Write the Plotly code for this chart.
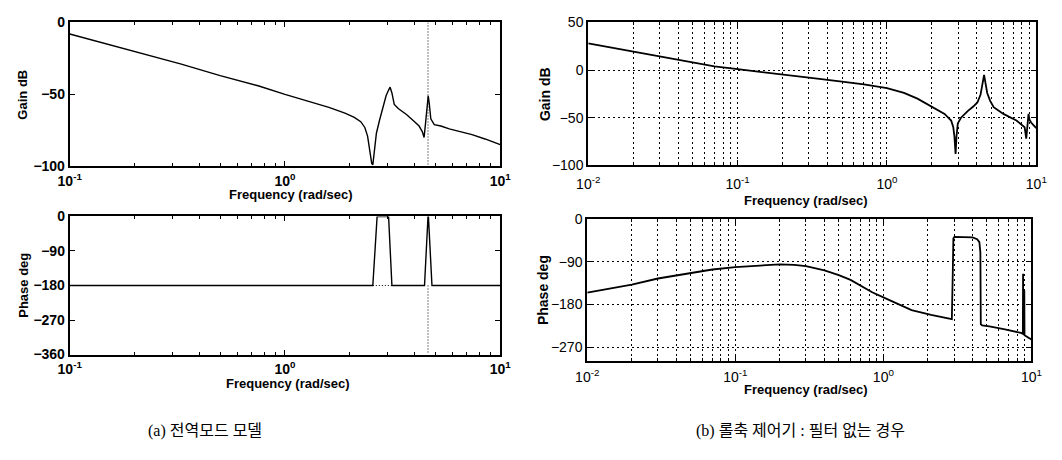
import plotly.graph_objects as go

# ---------------- data ----------------
# (a) whole-mode model : gain
A_GAIN_FREQ = [0.1, 0.15, 0.22, 0.33, 0.5, 0.75, 1.0, 1.3, 1.6, 1.9, 2.1, 2.25, 2.35, 2.42,
               2.48, 2.53, 2.56, 2.6, 2.66, 2.75, 2.85, 2.95, 3.03, 3.08, 3.14, 3.22, 3.37,
               3.67, 4.0, 4.2, 4.35, 4.43, 4.5, 4.56, 4.63, 4.68, 4.76, 4.94, 5.3, 5.8, 6.5,
               7.4, 8.5, 10.0]
A_GAIN_DB = [-8, -15, -22, -29, -37, -44, -50, -55, -59, -63, -66, -69, -73, -79,
             -88, -98, -99, -88, -77, -68, -59, -51, -47, -45, -49, -57, -60,
             -64, -69, -72, -76, -80, -70, -60, -51, -56, -67, -71, -72, -74, -76,
             -78, -81, -85]
# (a) whole-mode model : phase
A_PHASE_FREQ = [0.1, 2.56, 2.68, 3.03, 3.14, 4.45, 4.62, 4.64, 4.82, 10.0]
A_PHASE_DEG = [-180, -180, 0, 0, -180, -180, 0, 0, -180, -180]
# (a) dotted guide lines
A_MARK_FREQ = [4.62, 4.62]
A_MARK_GAIN = [0, -100]
A_MARK_PHASE = [-180, -360]
A_HOLD_FREQ = [2.56, 3.14]
A_HOLD_PHASE = [-180, -180]

# (b) roll-axis controller without filter : gain
B_GAIN_FREQ = [0.01, 0.015, 0.02, 0.03, 0.05, 0.07, 0.1, 0.15, 0.2, 0.3, 0.5, 0.7, 1.0, 1.3,
               1.6, 2.0, 2.43, 2.69, 2.78, 2.83, 2.88, 2.92, 2.98, 3.13, 3.47, 3.8, 4.03,
               4.23, 4.38, 4.47, 4.55, 4.69, 4.9, 5.18, 6.02, 7.36, 8.35, 8.56, 8.7, 8.87,
               9.0, 9.23, 9.6, 10.0]
B_GAIN_DB = [28, 23, 19, 14, 7.5, 4, 1, -2.5, -5, -8, -12, -15, -19, -24,
             -30, -39, -46, -53, -60, -70, -88, -70, -56, -50, -43, -38, -34,
             -26, -15, -5, -12, -24, -32, -39, -46, -53, -60, -72, -60, -46,
             -52, -55, -58, -61]
# (b) roll-axis controller without filter : phase
B_PHASE_FREQ = [0.01, 0.015, 0.02, 0.03, 0.05, 0.07, 0.1, 0.15, 0.2, 0.25, 0.3, 0.4, 0.5,
                0.6, 0.84, 1.0, 1.23, 1.55, 2.1, 2.5, 2.9, 2.94, 2.97, 3.02, 3.5, 4.0,
                4.3, 4.45, 4.52, 4.55, 4.65, 5.2, 6.5, 7.5, 8.5, 8.75, 8.78, 8.82, 8.95,
                8.98, 10.0]
B_PHASE_DEG = [-155, -145, -138, -125, -113, -106, -101, -97, -95, -96, -99, -108, -118,
               -128, -154, -165, -178, -192, -202, -207, -211, -120, -40, -37, -37, -38,
               -42, -48, -70, -222, -224, -226, -232, -236, -240, -242, -115, -243, -150,
               -245, -254]

# tick labels
A_XTICKS = [0.1, 1, 10]
A_XTEXT = ["10<sup>-1</sup>", "10<sup>0</sup>", "10<sup>1</sup>"]
B_XTICKS = [0.01, 0.1, 1, 10]
B_XTEXT = ["10<sup>-2</sup>", "10<sup>-1</sup>", "10<sup>0</sup>", "10<sup>1</sup>"]
A_GAIN_TICKS = [0, -50, -100]
A_PHASE_TICKS = [0, -90, -180, -270, -360]
B_GAIN_TICKS = [50, 0, -50, -100]
B_PHASE_TICKS = [0, -90, -180, -270]

# ---------------- layout helpers ----------------
W, H = 1062, 460


def fx(p):
    return p / W


def fy(p):
    return 1 - p / H


def minor_vals(lo, hi):
    out = []
    for e in range(lo, hi):
        for m in range(2, 10):
            out.append(m * 10 ** e)
    return out


FONT = "Liberation Sans, Arial, sans-serif"
BOLD14 = dict(family=FONT, size=14, color="black", weight="bold")
REG14 = dict(family=FONT, size=14, color="black")
GRIDDASH = "2px,3px"

fig = go.Figure()

LINE = dict(color="black", width=1.4)
DOT = dict(color="black", width=1, dash="1px,2px")

fig.add_trace(go.Scatter(x=A_GAIN_FREQ, y=A_GAIN_DB, mode="lines", line=LINE, xaxis="x", yaxis="y"))
fig.add_trace(go.Scatter(x=A_MARK_FREQ, y=A_MARK_GAIN, mode="lines", line=DOT, xaxis="x", yaxis="y"))
fig.add_trace(go.Scatter(x=A_PHASE_FREQ, y=A_PHASE_DEG, mode="lines", line=LINE, xaxis="x2", yaxis="y2"))
fig.add_trace(go.Scatter(x=A_MARK_FREQ, y=A_MARK_PHASE, mode="lines", line=DOT, xaxis="x2", yaxis="y2"))
fig.add_trace(go.Scatter(x=A_HOLD_FREQ, y=A_HOLD_PHASE, mode="lines", line=DOT, xaxis="x2", yaxis="y2"))
fig.add_trace(go.Scatter(x=B_GAIN_FREQ, y=B_GAIN_DB, mode="lines", line=dict(color="black", width=1.8),
                         xaxis="x3", yaxis="y3"))
fig.add_trace(go.Scatter(x=B_PHASE_FREQ, y=B_PHASE_DEG, mode="lines", line=dict(color="black", width=1.8),
                         xaxis="x4", yaxis="y4"))


def xaxis(dom, rng, ticks, text, anchor, grid, font, lo, hi, standoff):
    d = dict(type="log", range=rng, domain=[fx(dom[0]), fx(dom[1])], anchor=anchor,
             showline=True, linewidth=2, linecolor="black", mirror="allticks",
             ticks="inside", ticklen=5, tickwidth=1, tickcolor="black",
             tickmode="array", tickvals=ticks, ticktext=text, tickfont=font,
             ticklabelstandoff=standoff,
             showgrid=grid, zeroline=False, fixedrange=True,
             minor=dict(tickmode="array", tickvals=minor_vals(lo, hi), ticks="inside", ticklen=3,
                        tickwidth=1, tickcolor="black", showgrid=grid))
    if grid:
        d.update(gridcolor="black", gridwidth=1, griddash=GRIDDASH)
        d["minor"].update(gridcolor="black", gridwidth=1, griddash=GRIDDASH)
    return d


def yaxis(dom, rng, ticks, anchor, grid, font):
    d = dict(range=rng, domain=[fy(dom[1]), fy(dom[0])], anchor=anchor,
             showline=True, linewidth=2, linecolor="black", mirror="allticks",
             ticks="inside", ticklen=5, tickwidth=1, tickcolor="black",
             tickmode="array", tickvals=ticks, tickfont=font,
             showgrid=grid, zeroline=False, fixedrange=True)
    if grid:
        d.update(gridcolor="black", gridwidth=1, griddash=GRIDDASH)
    return d


fig.update_layout(
    width=W, height=H, margin=dict(l=0, r=0, t=0, b=0),
    paper_bgcolor="white", plot_bgcolor="white", showlegend=False,
    xaxis=xaxis((59, 499), [-1, 1], A_XTICKS, A_XTEXT, "y", False, BOLD14, -1, 1, 1),
    yaxis=yaxis((15, 164), [-100, 0], A_GAIN_TICKS, "x", False, BOLD14),
    xaxis2=xaxis((59, 499), [-1, 1], A_XTICKS, A_XTEXT, "y2", False, BOLD14, -1, 1, 1),
    yaxis2=yaxis((216, 359), [-360, 0], A_PHASE_TICKS, "x2", False, BOLD14),
    xaxis3=xaxis((589, 1047), [-2, 1], B_XTICKS, B_XTEXT, "y3", True, REG14, -2, 1, 5),
    yaxis3=yaxis((15, 163), [-100, 50], B_GAIN_TICKS, "x3", True, REG14),
    xaxis4=xaxis((588, 1042), [-2, 1], B_XTICKS, B_XTEXT, "y4", True, REG14, -2, 1, 2),
    yaxis4=yaxis((219, 366), [-300, 0], B_PHASE_TICKS, "x4", True, REG14),
)

ann = []


def text(x, y, s, font, angle=0):
    ann.append(dict(x=fx(x), y=fy(y), xref="paper", yref="paper", text=s, showarrow=False,
                    xanchor="center", yanchor="middle", font=font, textangle=angle))


TITLE = dict(family=FONT, size=13, color="black", weight="bold")
text(285, 193, "Frequency (rad/sec)", TITLE)
text(282, 389, "Frequency (rad/sec)", TITLE)
text(812, 199, "Frequency (rad/sec)", TITLE)
text(812, 395, "Frequency (rad/sec)", TITLE)
text(11, 90, "Gain dB", TITLE, -90)
text(11, 287, "Phase deg", TITLE, -90)
text(545, 89, "Gain dB", dict(family=FONT, size=14, color="black", weight="bold"), -90)
text(543, 292, "Phase deg", dict(family=FONT, size=14, color="black", weight="bold"), -90)
CAP = dict(family="Liberation Serif, Noto Sans CJK KR, serif", size=16, color="black")
text(197, 438, "(a) 전역모드 모델", CAP)
text(806, 438, "(b) 롤축 제어기 : 필터 없는 경우", CAP)
fig.update_layout(annotations=ann)

fig.write_html("out.html", config={"displayModeBar": False},
               post_script="document.body.style.margin='0px';")
